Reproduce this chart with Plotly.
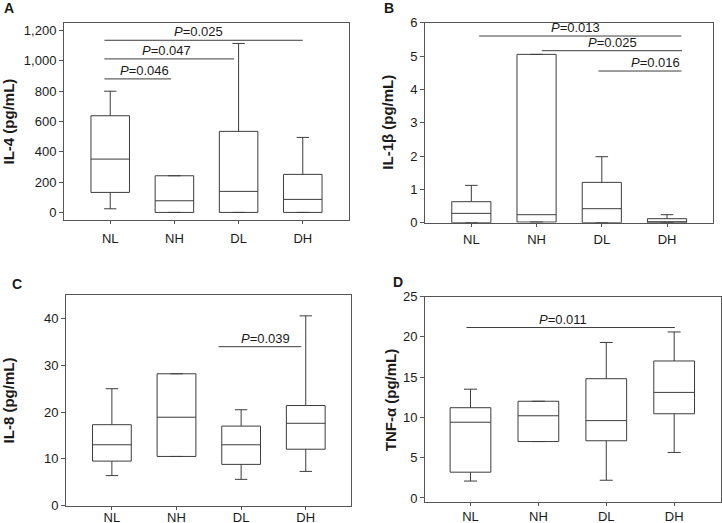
import plotly.graph_objects as go
from plotly.subplots import make_subplots

groups = ["NL", "NH", "DL", "DH"]

# box summaries: lower whisker, Q1, median, Q3, upper whisker
il4_low = [24, 0, 0, 0]
il4_q1 = [132, 0, 0, 0]
il4_med = [352, 77, 139, 86]
il4_q3 = [638, 242, 535, 251]
il4_high = [800, 242, 1115, 495]

il1b_low = [0, 0.02, 0, 0]
il1b_q1 = [0, 0.02, 0, 0]
il1b_med = [0.28, 0.24, 0.42, 0.02]
il1b_q3 = [0.63, 5.05, 1.21, 0.12]
il1b_high = [1.12, 5.05, 1.98, 0.24]

il8_low = [6.4, 10.5, 5.6, 7.3]
il8_q1 = [9.5, 10.5, 8.8, 12.05]
il8_med = [13.0, 18.9, 13.0, 17.6]
il8_q3 = [17.3, 28.2, 17.0, 21.4]
il8_high = [25.0, 28.2, 20.5, 40.6]

tnf_low = [2.1, 7.0, 2.2, 5.65]
tnf_q1 = [3.2, 7.0, 7.1, 10.45]
tnf_med = [9.4, 10.2, 9.6, 13.1]
tnf_q3 = [11.2, 12.0, 14.8, 17.0]
tnf_high = [13.5, 12.0, 19.3, 20.6]

# significance bars: p value, line from, line to (group index), height, label centre
il4_pvals = [("0.025", -0.09, 3.0, 1136, 1.37),
             ("0.047", -0.09, 1.93, 1013, 0.88),
             ("0.046", -0.09, 0.95, 881, 0.54)]
il1b_pvals = [("0.013", 0.12, 3.22, 5.6, 1.59),
              ("0.025", 1.08, 3.23, 5.16, 2.16),
              ("0.016", 1.95, 3.22, 4.55, 2.82)]
il8_pvals = [("0.039", 1.65, 2.93, 34.0, 2.38)]
tnf_pvals = [("0.011", -0.06, 3.01, 21.15, 1.36)]

W, H = 722, 523
ink = "#1a1a1a"
line_col = "#3c3c3c"
axis_col = "#555555"

fig = make_subplots(rows=2, cols=2)

panels = [
    dict(row=1, col=1, letter="A", title="IL-4 (pg/mL)",
         stats=(il4_low, il4_q1, il4_med, il4_q3, il4_high), pvals=il4_pvals,
         xdom=(64, 349), ydom=(23, 220), xr=[-0.72, 3.72], yr=[-50, 1250], dtick=200,
         fmt=",", title_x=8, letter_xy=(9, 8), standoff=3),
    dict(row=1, col=2, letter="B", title="IL-1β (pg/mL)",
         stats=(il1b_low, il1b_q1, il1b_med, il1b_q3, il1b_high), pvals=il1b_pvals,
         xdom=(425, 712.7), ydom=(22.7, 222.7), xr=[-0.71, 3.70], yr=[0, 6], dtick=1,
         fmt="", title_x=388, letter_xy=(389, 8), standoff=2),
    dict(row=2, col=1, letter="C", title="IL-8 (pg/mL)",
         stats=(il8_low, il8_q1, il8_med, il8_q3, il8_high), pvals=il8_pvals,
         xdom=(66, 351), ydom=(295.3, 505.5), xr=[-0.71, 3.70], yr=[0, 45], dtick=10,
         fmt="", title_x=8, letter_xy=(17, 284), standoff=-3),
    dict(row=2, col=2, letter="D", title="TNF-α (pg/mL)",
         stats=(tnf_low, tnf_q1, tnf_med, tnf_q3, tnf_high), pvals=tnf_pvals,
         xdom=(425, 721), ydom=(296.5, 502), xr=[-0.67, 3.69], yr=[-0.5, 25], dtick=5,
         fmt="", title_x=390, letter_xy=(398, 282), standoff=-1),
]

for i, p in enumerate(panels):
    low, q1, med, q3, high = p["stats"]
    fig.add_trace(go.Box(x=list(range(len(groups))), lowerfence=low, q1=q1, median=med,
                         q3=q3, upperfence=high, width=0.6, whiskerwidth=0.32,
                         boxpoints=False, fillcolor="rgba(0,0,0,0)",
                         line=dict(color=line_col, width=1), hoverinfo="skip",
                         showlegend=False), row=p["row"], col=p["col"])

    xname = "x" if i == 0 else f"x{i+1}"
    yname = "y" if i == 0 else f"y{i+1}"
    fig.update_xaxes(domain=[p["xdom"][0] / W, p["xdom"][1] / W], range=p["xr"],
                     tickvals=list(range(len(groups))), ticktext=groups,
                     ticklabelstandoff=p["standoff"], ticklen=3,
                     row=p["row"], col=p["col"])
    fig.update_yaxes(domain=[1 - p["ydom"][1] / H, 1 - p["ydom"][0] / H], range=p["yr"],
                     tick0=0, dtick=p["dtick"], tickformat=p["fmt"], ticklen=4,
                     row=p["row"], col=p["col"])

    for val, x0, x1, yv, tx in p["pvals"]:
        fig.add_shape(type="line", xref=xname, yref=yname, x0=x0, x1=x1, y0=yv, y1=yv,
                      line=dict(color=line_col, width=1))
        fig.add_annotation(xref=xname, yref=yname, x=tx, y=yv, text=f"<i>P</i>={val}",
                           showarrow=False, xanchor="center", yanchor="bottom",
                           font=dict(size=13, color=ink), yshift=-1)

    fig.add_annotation(xref="paper", yref="paper", x=p["title_x"] / W,
                       y=1 - (p["ydom"][0] + p["ydom"][1]) / 2 / H,
                       text=f"<b>{p['title']}</b>", textangle=-90, showarrow=False,
                       xanchor="center", yanchor="middle", font=dict(size=15, color=ink))
    fig.add_annotation(xref="paper", yref="paper", x=p["letter_xy"][0] / W,
                       y=1 - p["letter_xy"][1] / H, text=f"<b>{p['letter']}</b>",
                       showarrow=False, xanchor="center", yanchor="middle",
                       font=dict(size=14, color=ink))

fig.update_xaxes(showline=True, mirror=True, linecolor=axis_col, linewidth=1, ticks="outside",
                 tickcolor=axis_col, showgrid=False, zeroline=False, automargin=False,
                 tickfont=dict(size=13, color=ink))
fig.update_yaxes(showline=True, mirror=True, linecolor=axis_col, linewidth=1, ticks="outside",
                 tickcolor=axis_col, showgrid=False, zeroline=False, automargin=False,
                 tickfont=dict(size=13, color=ink))

fig.update_layout(width=W, height=H, margin=dict(l=0, r=0, t=0, b=0),
                  plot_bgcolor="white", paper_bgcolor="white",
                  font=dict(family="Liberation Sans, Arial, sans-serif", color=ink))

# the page's default body margin would push the figure 8px off the window
fig.write_html("out.html", config={"displayModeBar": False},
               post_script="document.body.style.margin='0';")
